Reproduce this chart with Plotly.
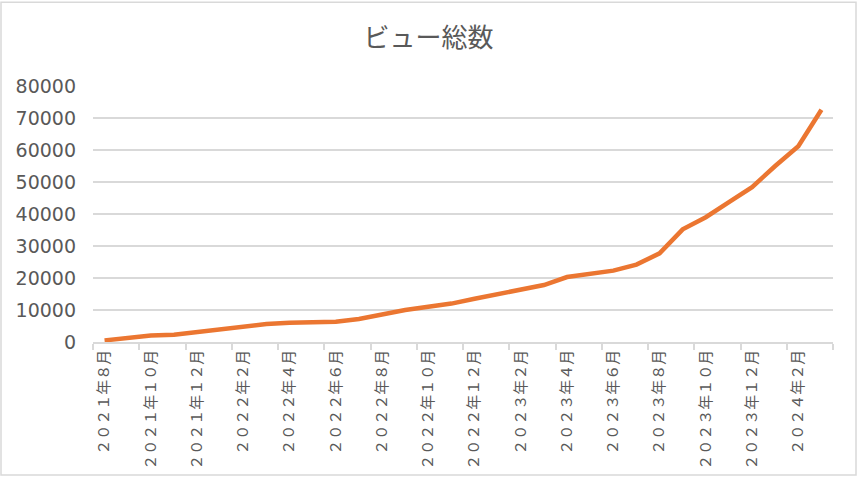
import plotly.graph_objects as go

FW = str.maketrans("0123456789", "０１２３４５６７８９")

months = []
y, m = 2021, 8
for _ in range(32):
    months.append(f"{y}年{m}月".translate(FW))
    m += 1
    if m > 12:
        m = 1
        y += 1

views = [500, 1300, 2000, 2300, 3200, 4000, 4900, 5600, 6000, 6300,
         6300, 7200, 8700, 10000, 11000, 12000, 13500, 15000, 16200, 17800,
         20300, 21200, 22300, 24200, 27700, 35200, 39000, 43700, 48400, 55000,
         61200, 72600]

y_ticks = [0, 10000, 20000, 30000, 40000, 50000, 60000, 70000, 80000]

W, H = 857, 482
L, R, T, B = 93, 24, 86, 136
pw, ph = W - L - R, H - T - B

fig = go.Figure()
fig.add_trace(go.Scatter(
    x=months, y=views, mode="lines",
    line=dict(color="#EB7631", width=4.5),
    showlegend=False,
))

fig.update_layout(
    width=W, height=H,
    margin=dict(l=L, r=R, t=T, b=B),
    paper_bgcolor="white", plot_bgcolor="white",
    title=dict(text="ビュー総数", x=0.5, xanchor="center", y=1 - 38 / H, yanchor="middle",
               font=dict(family="Noto Sans CJK JP", size=26, color="#595959")),
    xaxis=dict(
        type="category", range=[-0.5, 31.5],
        tickmode="linear", tick0=0, dtick=2,
        tickson="boundaries", ticks="outside", ticklen=6, tickcolor="#D9D9D9", tickwidth=1.5,
        tickangle=-90,
        showgrid=False, showline=True, linecolor="#D9D9D9", linewidth=1.5,
        tickfont=dict(family="Noto Sans CJK JP", size=15, color="#595959"),
    ),
    yaxis=dict(
        range=[0, 80000], tickvals=y_ticks, ticktext=[str(v) for v in y_ticks],
        showgrid=True, gridcolor="#D9D9D9", gridwidth=1.5,
        zeroline=False, showline=False, ticks="",
        ticklabelstandoff=16,
        tickfont=dict(family="DejaVu Sans", size=19, color="#595959"),
    ),
    shapes=[dict(
        type="rect", xref="paper", yref="paper",
        x0=-(L - 1) / pw, x1=1 + (R - 1) / pw,
        y0=-(B - 1) / ph, y1=1 + (T - 1) / ph,
        line=dict(color="#D9D9D9", width=1.5), fillcolor="rgba(0,0,0,0)",
        layer="below",
    )],
)

fig.write_html("out.html", config={"displayModeBar": False},
               post_script="document.body.style.margin='0';")
